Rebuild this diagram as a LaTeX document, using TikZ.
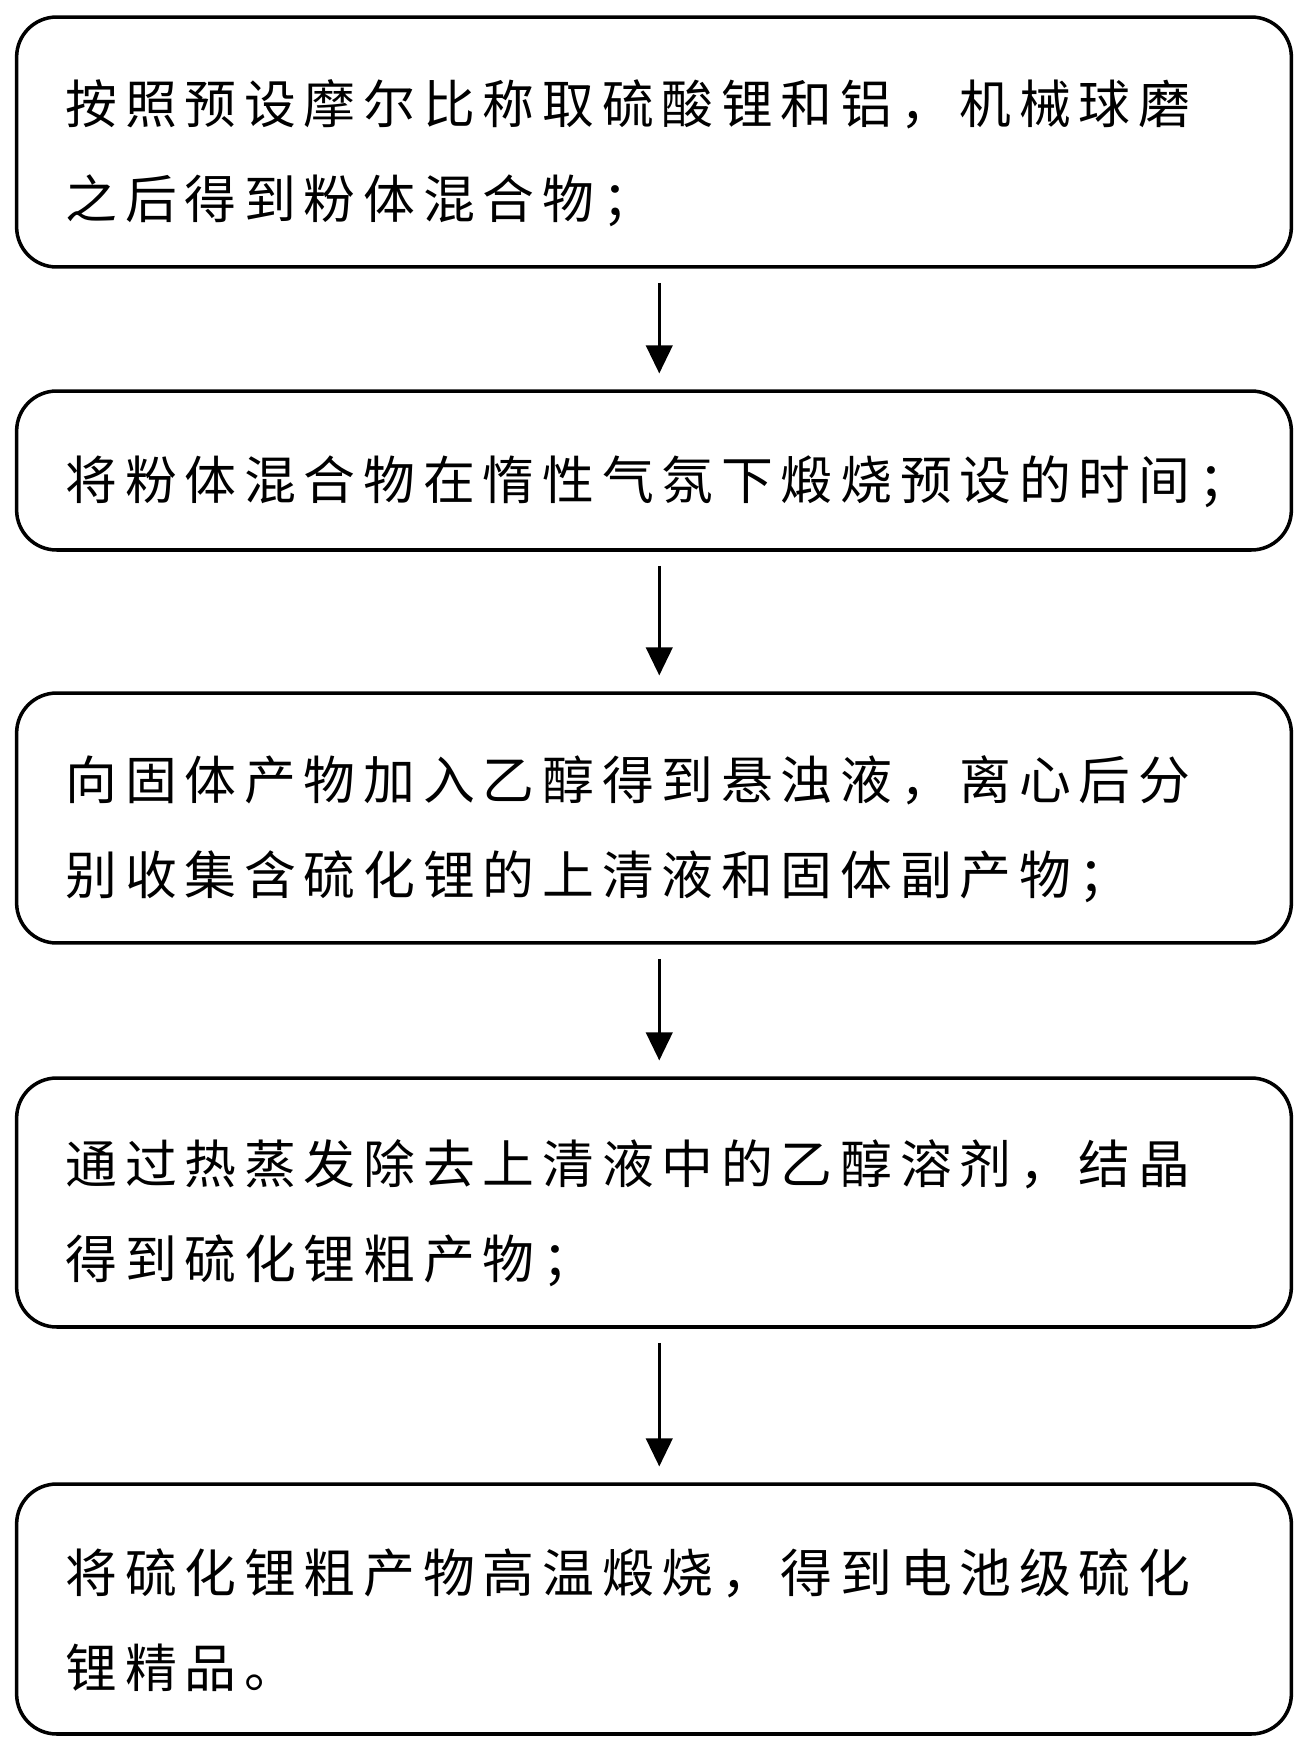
\documentclass[tikz,border=0pt]{standalone}
\usepackage{fontspec}
\usetikzlibrary{arrows.meta}
\newfontfamily\cjkfont[LetterSpace=15]{Noto Sans CJK SC}

\tikzset{
  stepbox/.style={draw,line width=2pt,rounded corners=0.8cm,
    minimum width=25.5cm,text width=23.54cm,inner xsep=0.98cm,inner ysep=0pt,
    align=left,font={\cjkfont\fontsize{29.5}{54}\selectfont},
    execute at begin node={\rule{0pt}{1.32cm}}},
  flowarrow/.style={-{Triangle[width=15pt,length=16pt]},line width=1.8pt,
    shorten <=8pt,shorten >=9pt}
}

\begin{document}
\begin{tikzpicture}[x=0.02cm,y=-0.02cm]
  \useasboundingbox (0,0) rectangle (1307,1749);
  \node[stepbox,minimum height=5cm] (grind) at (654,142)
    {按照预设摩尔比称取硫酸锂和铝，机械球磨\\之后得到粉体混合物；};
  \node[stepbox,minimum height=3.18cm] (calcine) at (654,470.5)
    {将粉体混合物在惰性气氛下煅烧预设的时间；};
  \node[stepbox,minimum height=5cm] (separate) at (654,818)
    {向固体产物加入乙醇得到悬浊液，离心后分\\别收集含硫化锂的上清液和固体副产物；};
  \node[stepbox,minimum height=4.98cm] (evaporate) at (654,1202.5)
    {通过热蒸发除去上清液中的乙醇溶剂，结晶\\得到硫化锂粗产物；};
  \node[stepbox,minimum height=5cm] (refine) at (654,1609)
    {将硫化锂粗产物高温煅烧，得到电池级硫化\\锂精品。};
  \foreach \a/\b in {grind/calcine,calcine/separate,separate/evaporate,evaporate/refine}
    \draw[flowarrow] ([xshift=3]\a.south) -- ([xshift=3]\b.north);
\end{tikzpicture}
\end{document}
